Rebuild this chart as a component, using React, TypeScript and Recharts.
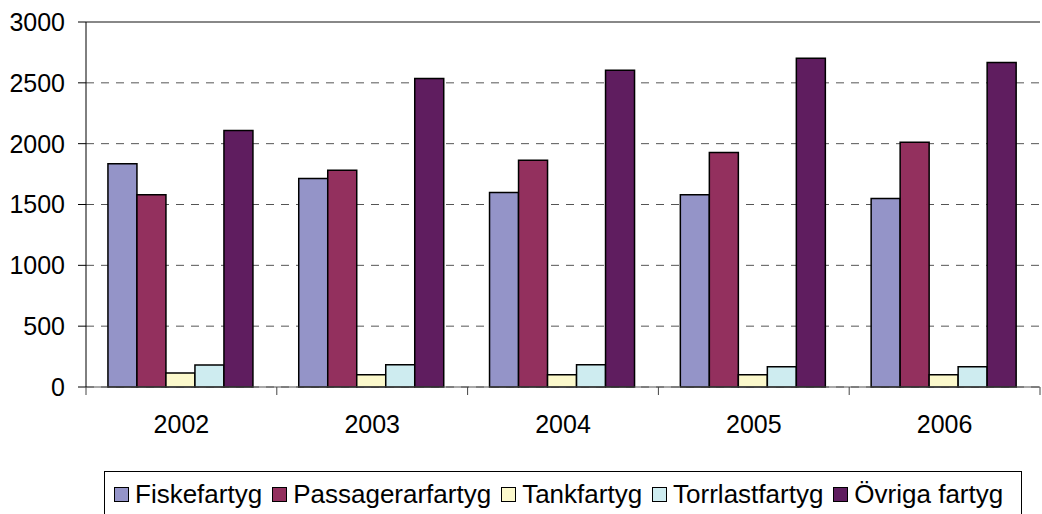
import { BarChart, Bar, XAxis, YAxis, CartesianGrid, Legend, ReferenceLine } from "recharts";

const years = ["2002", "2003", "2004", "2005", "2006"];
const fiske = [1834, 1713, 1598, 1581, 1549];
const passagerare = [1581, 1781, 1864, 1927, 2012];
const tank = [115, 101, 101, 101, 101];
const torrlast = [181, 183, 183, 167, 167];
const ovriga = [2108, 2535, 2604, 2702, 2667];
const yTicks = [0, 500, 1000, 1500, 2000, 2500, 3000];

const series = [
  { key: "fiske", name: "Fiskefartyg", color: "#9494C8" },
  { key: "passagerare", name: "Passagerarfartyg", color: "#93305E" },
  { key: "tank", name: "Tankfartyg", color: "#FCF9CC" },
  { key: "torrlast", name: "Torrlastfartyg", color: "#CEECF0" },
  { key: "ovriga", name: "Övriga fartyg", color: "#5F1D5F" },
];

const data = years.map((year, i) => ({
  year,
  fiske: fiske[i],
  passagerare: passagerare[i],
  tank: tank[i],
  torrlast: torrlast[i],
  ovriga: ovriga[i],
}));

const font = "'Liberation Sans', Arial, sans-serif";

// ticks sit between the years, like in Excel
const YearTick = (props: any) => {
  const { x, y, payload, index, visibleTicksCount } = props;
  const off = payload?.offset ?? 0;
  const axisY = y - 28;
  return (
    <g>
      <line x1={x - off} x2={x - off} y1={axisY} y2={axisY + 8} stroke="#444" />
      {index === visibleTicksCount - 1 && (
        <line x1={x + off} x2={x + off} y1={axisY} y2={axisY + 8} stroke="#444" />
      )}
      <text x={x} y={y} dy="0.71em" textAnchor="middle" fill="#000" fontSize={25} fontFamily={font}>
        {payload.value}
      </text>
    </g>
  );
};

const LegendBox = () => (
  <div
    style={{
      boxSizing: "border-box",
      width: 918,
      height: 44,
      border: "1px solid #000",
      display: "flex",
      alignItems: "center",
      paddingLeft: 9,
      paddingTop: 3,
      fontFamily: font,
      fontSize: 26,
      color: "#000",
      background: "#fff",
      whiteSpace: "nowrap",
    }}
  >
    {series.map((s) => (
      <span key={s.key} style={{ display: "flex", alignItems: "center", marginRight: 10 }}>
        <span
          style={{
            boxSizing: "border-box",
            width: 15,
            height: 15,
            border: "1.5px solid #000",
            background: s.color,
            marginRight: 6,
          }}
        />
        {s.name}
      </span>
    ))}
  </div>
);

export default function App() {
  return (
    <div style={{ position: "absolute", left: 0, top: 0, background: "#fff" }}>
      <BarChart
        width={1042}
        height={514}
        data={data}
        margin={{ top: 22, right: 2, left: 0, bottom: 0 }}
        barCategoryGap="11.5%"
        barGap={0}
      >
        <CartesianGrid vertical={false} stroke="#555" strokeDasharray="8 7" />
        <ReferenceLine y={3000} stroke="#888" strokeWidth={2} />
        <XAxis
          dataKey="year"
          interval={0}
          height={83}
          tickSize={8}
          tickMargin={20}
          tickLine={false}
          axisLine={{ stroke: "#555" }}
          tick={<YearTick />}
        />
        <YAxis
          domain={[0, 3000]}
          ticks={yTicks}
          width={86}
          tickSize={8}
          tickMargin={13}
          axisLine={{ stroke: "#000" }}
          tickLine={{ stroke: "#000" }}
          tick={{ fill: "#000", fontSize: 25, fontFamily: font }}
        />
        <Legend
          content={<LegendBox />}
          verticalAlign="bottom"
          wrapperStyle={{ left: 104, top: 471, width: 918, height: 44 }}
        />
        {series.map((s) => (
          <Bar
            key={s.key}
            dataKey={s.key}
            name={s.name}
            fill={s.color}
            stroke="#000"
            strokeWidth={1.5}
            isAnimationActive={false}
          />
        ))}
      </BarChart>
    </div>
  );
}
